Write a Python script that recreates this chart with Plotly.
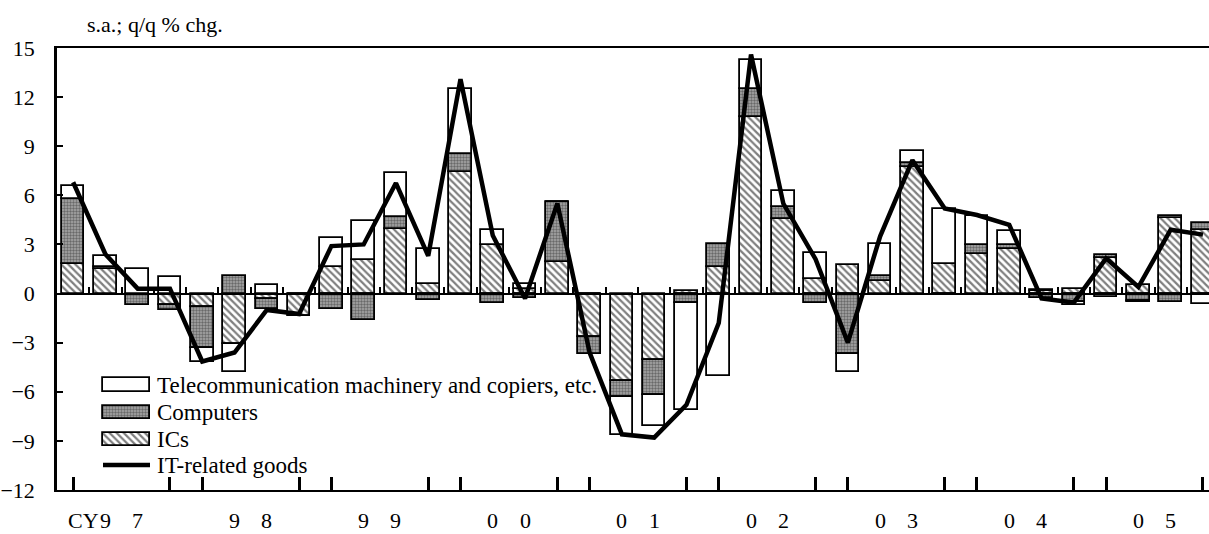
import plotly.graph_objects as go

# ---------------- data (s.a.; q/q % chg.), CY1997Q1 .. CY2005Q4 ----------------
quarters = [f"{y}Q{q}" for y in range(1997, 2006) for q in range(1, 5)]
ics = [1.8, 1.5, 0.0, -0.7, -0.85, -3.1, -0.35, -1.35,
       1.6, 2.05, 3.95, 0.6, 7.45, 2.95, 0.3, 1.9,
       -2.65, -5.35, -4.05, 0.15, 1.6, 10.8, 4.55, 0.9,
       1.75, 0.75, 7.75, 1.8, 2.4, 2.75, 0.15, 0.3,
       2.15, 0.5, 4.6, 3.9]
computers = [4.0, 0.1, -0.7, -0.3, -2.5, 1.1, -0.6, -0.05,
             -0.95, -1.6, 0.7, -0.4, 1.1, -0.55, -0.3, 3.7,
             -1.05, -0.95, -2.15, -0.6, 1.4, 1.7, 0.75, -0.55,
             -3.7, 0.3, 0.2, -0.1, 0.55, 0.2, -0.25, -0.5,
             0.2, -0.45, -0.5, 0.4]
telecom = [0.8, 0.7, 1.5, 1.0, -0.85, -1.7, 0.5, 0.0,
           1.8, 2.4, 2.7, 2.1, 3.95, 0.95, 0.3, 0.0,
           0.0, -2.35, -1.9, -6.5, -5.05, 1.75, 0.95, 1.55,
           -1.1, 2.0, 0.75, 3.35, 1.8, 0.9, 0.05, -0.2,
           -0.2, -0.05, 0.15, -0.65]
it_goods = [6.8, 2.4, 0.3, 0.3, -4.15, -3.6, -1.0, -1.25,
            2.9, 3.0, 6.75, 2.3, 13.1, 3.55, -0.3, 5.5,
            -3.6, -8.6, -8.8, -6.8, -1.8, 14.6, 5.5, 2.1,
            -3.0, 3.5, 8.15, 5.2, 4.8, 4.2, -0.3, -0.55,
            2.15, 0.4, 3.9, 3.6]

y_ticks = [-12, -9, -6, -3, 0, 3, 6, 9, 12, 15]
year_first_digit = ["9", "9", "9", "0", "0", "0", "0", "0", "0"]
year_second_digit = ["7", "8", "9", "0", "1", "2", "3", "4", "5"]
series_names = ["Telecommunication machinery and copiers, etc.", "Computers", "ICs", "IT-related goods"]

# ---------------- styling ----------------
FONT = "Liberation Serif"
FS = 22
FS_LEG = 23
W, H = 1209, 534
ML, MR, MT, MB = 57, 0, 48, 44
YMIN, YMAX = -12, 15
PLOT_H = H - MT - MB

idx = list(range(len(quarters)))

ic_marker = dict(color="white", line=dict(color="black", width=1.8),
                 pattern=dict(shape="\\", fgcolor="#000000", bgcolor="white", size=5, solidity=0.45))
comp_marker = dict(color="#8a8a8a", line=dict(color="black", width=1.8),
                   pattern=dict(shape=".", fgcolor="#2a2a2a", bgcolor="#a8a8a8", size=3, solidity=0.5))
tel_marker = dict(color="white", line=dict(color="black", width=1.8))

fig = go.Figure()
BW = 0.7
fig.add_trace(go.Bar(x=idx, y=ics, name=series_names[2], marker=ic_marker, width=BW, showlegend=False))
fig.add_trace(go.Bar(x=idx, y=computers, name=series_names[1], marker=comp_marker, width=BW, showlegend=False))
fig.add_trace(go.Bar(x=idx, y=telecom, name=series_names[0], marker=tel_marker, width=BW, showlegend=False))
fig.add_trace(go.Scatter(x=idx, y=it_goods, name=series_names[3], mode="lines",
                         line=dict(color="black", width=4.5), showlegend=False))

# ---------------- custom legend (wide swatches) on a pixel-scaled overlay axis ----------------
LEG_X0, LEG_W = 103, 47
LEG_TEXT_X = 155
LEG_ROWS = [385, 412.5, 439.5, 465]
LEG_H = 13.5
for name, mk, yy in [(series_names[0], tel_marker, LEG_ROWS[0]),
                     (series_names[1], comp_marker, LEG_ROWS[1]),
                     (series_names[2], ic_marker, LEG_ROWS[2])]:
    fig.add_trace(go.Bar(x=[LEG_W], y=[yy], base=[LEG_X0], orientation="h", width=LEG_H,
                         marker=mk, xaxis="x3", yaxis="y3", showlegend=False, hoverinfo="skip"))
fig.add_trace(go.Scatter(x=[LEG_X0, LEG_X0 + LEG_W], y=[LEG_ROWS[3]] * 2, mode="lines",
                         line=dict(color="black", width=4.5), xaxis="x3", yaxis="y3",
                         showlegend=False, hoverinfo="skip"))
for name, yy in zip(series_names, LEG_ROWS):
    fig.add_annotation(x=LEG_TEXT_X, y=yy, xref="x3", yref="y3", text=name, showarrow=False,
                       xanchor="left", yanchor="middle", font=dict(family=FONT, size=FS_LEG, color="black"))

# ---------------- axes ----------------
slot_px = 32.28
xr_right = (W - ML - MR) / slot_px - 0.5
XRANGE = [-0.5, xr_right]
year_ticks = [i for i in idx if i % 4 in (0, 3)]

fig.update_layout(
    width=W, height=H, margin=dict(l=ML, r=MR, t=MT, b=MB, autoexpand=False),
    paper_bgcolor="white", plot_bgcolor="white",
    barmode="relative", bargap=0,
    font=dict(family=FONT, size=FS, color="black"),
    xaxis=dict(range=XRANGE, tickvals=year_ticks, ticks="inside", ticklen=13, tickwidth=3,
               tickcolor="black", showticklabels=False, showgrid=False, zeroline=False,
               showline=True, linecolor="black", linewidth=2, mirror=True),
    xaxis2=dict(range=XRANGE, overlaying="x", anchor="free", position=(0 - YMIN) / (YMAX - YMIN),
                side="bottom", tickvals=[i + 0.5 for i in idx[:-1]], ticks="inside", ticklen=6,
                tickwidth=1.5, tickcolor="black", showticklabels=False, showgrid=False,
                zeroline=False, showline=True, linecolor="black", linewidth=2),
    yaxis=dict(range=[YMIN, YMAX], tickvals=y_ticks, ticks="inside", ticklen=6, tickwidth=1.5,
               tickcolor="black", showgrid=False, zeroline=False, showline=True,
               linecolor="black", linewidth=2.5, ticklabelstandoff=15,
               tickfont=dict(family=FONT, size=FS, color="black")),
    xaxis3=dict(range=[ML, W - MR], overlaying="x", anchor="y3", visible=False),
    yaxis3=dict(range=[H - MB, MT], overlaying="y", anchor="x3", visible=False),
    showlegend=False,
)
# dummy trace so the zero-line axis is rendered
fig.add_trace(go.Scatter(x=[None], y=[None], xaxis="x2", showlegend=False, hoverinfo="skip"))

# unit title
fig.add_annotation(x=(85 - ML) / (W - ML - MR), y=(H - MB - 25) / PLOT_H, xref="paper", yref="paper",
                   text="s.a.; q/q % chg.", showarrow=False, xanchor="left", yanchor="middle",
                   font=dict(family=FONT, size=FS, color="black"))

# year labels (digits under Q2 and Q3), kept inside the page's bottom edge
LAB_Y = -MB / PLOT_H
for k, (d1, d2) in enumerate(zip(year_first_digit, year_second_digit)):
    fig.add_annotation(x=4 * k + 1, y=LAB_Y, xref="x", yref="paper", text=d1, showarrow=False,
                       xanchor="center", yanchor="bottom", borderpad=0,
                       font=dict(family=FONT, size=FS, color="black"))
    fig.add_annotation(x=4 * k + 2, y=LAB_Y, xref="x", yref="paper", text=d2, showarrow=False,
                       xanchor="center", yanchor="bottom", borderpad=0,
                       font=dict(family=FONT, size=FS, color="black"))
fig.add_annotation(x=1, y=LAB_Y, xref="x", yref="paper", text="CY", showarrow=False, xshift=-5.5,
                   xanchor="right", yanchor="bottom", borderpad=0,
                   font=dict(family=FONT, size=FS, color="black"))

# remove the browser's default page margin so the figure sits at the window's top-left corner
fig.write_html("out.html", config={"displayModeBar": False},
               post_script="document.body.style.margin='0';document.body.style.overflow='hidden';")
